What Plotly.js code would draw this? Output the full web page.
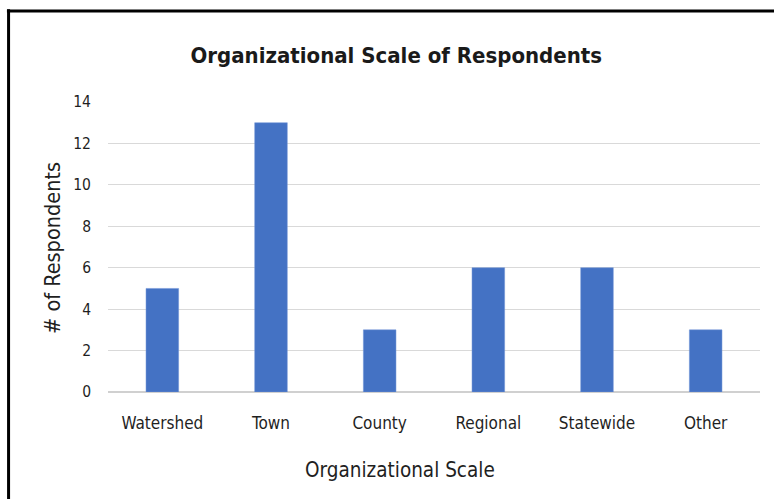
<!DOCTYPE html>
<html>
<head>
<meta charset="utf-8">
<script src="https://cdn.plot.ly/plotly-3.0.1.min.js"></script>
<style>html,body{margin:0;padding:0;background:#fff;}#chart{width:774px;height:499px;}</style>
</head>
<body>
<div id="chart"></div>
<script>
var categories = ["Watershed", "Town", "County", "Regional", "Statewide", "Other"];
var respondents = [5, 13, 3, 6, 6, 3];
var yTicks = [0, 2, 4, 6, 8, 10, 12, 14];

var FONT = "'DejaVu Sans Condensed', 'Liberation Sans Narrow', Arial, sans-serif";

var data = [{
  type: "bar",
  x: categories,
  y: respondents,
  marker: {color: "#4472C4", line: {color: "#6f93d6", width: 0.5}},
  hoverinfo: "x+y"
}];

var layout = {
  width: 774, height: 499,
  paper_bgcolor: "#ffffff", plot_bgcolor: "#ffffff",
  margin: {l: 108, r: 14, t: 102, b: 107},
  bargap: 0.7,
  showlegend: false,
  title: {
    text: "<b>Organizational Scale of Respondents</b>",
    font: {family: FONT, size: 22, color: "#1a1a1a"},
    x: 0.512, xanchor: "center", y: 0.89, yanchor: "middle"
  },
  xaxis: {
    type: "category",
    showgrid: false, showline: false, zeroline: false,
    ticks: "",
    ticklabelstandoff: 19,
    tickfont: {family: FONT, size: 17, color: "#1f1f1f"}
  },
  yaxis: {
    range: [0, 14],
    tickvals: yTicks,
    ticktext: yTicks.map(String),
    showgrid: true, gridcolor: "#d9d9d9", gridwidth: 1.2,
    zeroline: true, zerolinecolor: "#d0d0d0", zerolinewidth: 1.5,
    showline: false, ticks: "",
    ticklabelstandoff: 16,
    tickfont: {family: FONT, size: 15.5, color: "#1f1f1f"}
  },
  annotations: [
    {text: "Organizational Scale", xref: "paper", yref: "paper", x: 0.448, y: -0.269,
     xanchor: "center", yanchor: "middle", showarrow: false,
     font: {family: FONT, size: 20.5, color: "#1f1f1f"}},
    {text: "# of Respondents", xref: "paper", yref: "paper", x: -0.0844, y: 0.4966,
     xanchor: "center", yanchor: "middle", showarrow: false, textangle: -90,
     font: {family: FONT, size: 21.5, color: "#1f1f1f"}}
  ],
  shapes: [
    {type: "line", xref: "paper", yref: "paper", x0: -0.155, x1: 1.03, y0: 1.3138, y1: 1.3138, line: {color: "#000", width: 3}},
    {type: "line", xref: "paper", yref: "paper", x0: -0.1525, x1: -0.1525, y0: 1.32, y1: -0.5, line: {color: "#000", width: 3}}
  ]
};

Plotly.newPlot("chart", data, layout, {displayModeBar: false, staticPlot: true});
</script>
</body>
</html>
